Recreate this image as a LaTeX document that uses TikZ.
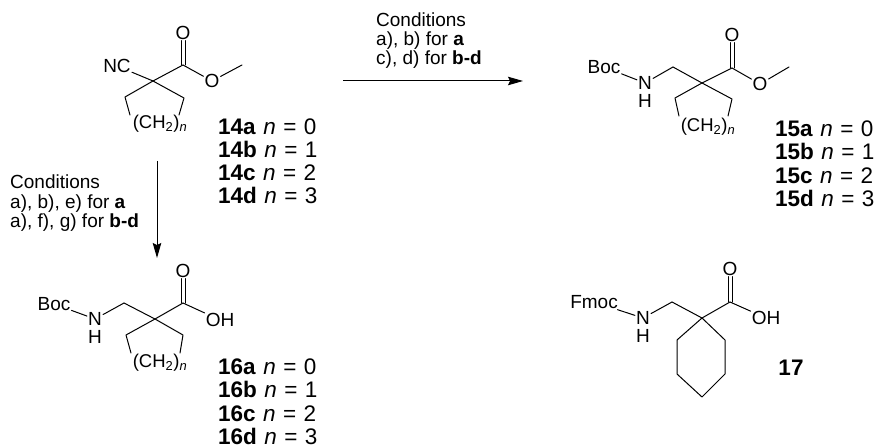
\documentclass[tikz,border=0pt]{standalone}
\usepackage{fontspec}
\setmainfont{Liberation Sans}
\usetikzlibrary{arrows.meta}
\tikzset{
  atom/.style={inner sep=1pt,font=\fontsize{19}{20}\selectfont,text height=13pt,text depth=0pt},
  chain/.style={inner sep=0pt,font=\fontsize{18.5}{20}\selectfont},
  cpd/.style={anchor=base west,inner sep=0pt,font=\fontsize{22.5}{24}\selectfont},
  cond/.style={anchor=base west,inner sep=0pt,font=\fontsize{19}{21}\selectfont},
  bond/.style={draw=black,line width=1pt,line cap=round,line join=round},
  rxn/.style={draw=black,line width=1pt,-{Stealth[length=15pt,width=8.5pt,inset=2pt]}}
}
\newcommand{\nn}[2]{\spaceskip=0.33em \textbf{#1} \textit{n} = #2}
\newcommand{\chainlabel}{(CH\textsubscript{2})\textsubscript{\textit{n}}}
\begin{document}
\begin{tikzpicture}[x=1pt,y=-1pt]
\useasboundingbox (0,0) rectangle (877,446);
% --- 14
\coordinate (a0) at (153,81);
\coordinate (a1) at (183,65);
\coordinate (a2) at (125,97);
\coordinate (a3) at (130,115);
\coordinate (a4) at (184,98);
\coordinate (a5) at (179,115);
\coordinate (a6) at (242,65);
\node[atom] (aO) at (183,33) {O};
\node[atom] (aE) at (212,81) {O};
\node[atom] (aN) at (117,66) {NC};
\node[chain] (aC) at (160,124) {\chainlabel};
\draw[bond] (aN) -- (a0);
\draw[bond] (a0) -- (a1);
\draw[bond] (a1) -- (aE);
\draw[bond] (aE) -- (a6);
\draw[bond] (a0) -- (a2) -- (a3);
\draw[bond] (a0) -- (a4) -- (a5);
\draw[bond] ([xshift=-2pt]a1) -- ([xshift=-2pt]aO.south);
\draw[bond] ([xshift=2pt]a1) -- ([xshift=2pt]aO.south);
\node[cpd] (l14a) at (218,135) {\nn{14a}{0}};
\node[cpd] (l14b) at (218,158) {\nn{14b}{1}};
\node[cpd] (l14c) at (218,181) {\nn{14c}{2}};
\node[cpd] (l14d) at (218,204) {\nn{14d}{3}};
% --- 15
\coordinate (b0) at (702,83);
\coordinate (b1) at (732,68);
\coordinate (b2) at (673,67);
\coordinate (b3) at (675,98);
\coordinate (b4) at (679,116);
\coordinate (b5) at (732,99);
\coordinate (b6) at (728,116);
\coordinate (b7) at (789,67);
\node[atom] (bO) at (732,35) {O};
\node[atom] (bE) at (760,84) {O};
\node[atom] (bN) at (645,83) {N};
\node[atom] (bH) at (645,101) {H};
\node[atom] (bB) at (604,67) {Boc};
\node[chain] (bC) at (708,127) {\chainlabel};
\draw[bond] (bB) -- (bN);
\draw[bond] (bN) -- (b2);
\draw[bond] (b2) -- (b0);
\draw[bond] (b0) -- (b1);
\draw[bond] (b1) -- (bE);
\draw[bond] (bE) -- (b7);
\draw[bond] (b0) -- (b3) -- (b4);
\draw[bond] (b0) -- (b5) -- (b6);
\draw[bond] ([xshift=-2pt]b1) -- ([xshift=-2pt]bO.south);
\draw[bond] ([xshift=2pt]b1) -- ([xshift=2pt]bO.south);
\node[cpd] (l15a) at (775,137) {\nn{15a}{0}};
\node[cpd] (l15b) at (775,160) {\nn{15b}{1}};
\node[cpd] (l15c) at (775,184) {\nn{15c}{2}};
\node[cpd] (l15d) at (775,207) {\nn{15d}{3}};
% --- 16
\coordinate (c0) at (155,319);
\coordinate (c1) at (183,303);
\coordinate (c2) at (124,303);
\coordinate (c3) at (126,335);
\coordinate (c4) at (131,353);
\coordinate (c5) at (183,335);
\coordinate (c6) at (180,353);
\node[atom] (cO) at (183,271) {O};
\node[atom] (cE) at (220,320) {OH};
\node[atom] (cN) at (95,319) {N};
\node[atom] (cH) at (95,337) {H};
\node[atom] (cB) at (54,304) {Boc};
\node[chain] (cC) at (160,363) {\chainlabel};
\draw[bond] (cB) -- (cN);
\draw[bond] (cN) -- (c2);
\draw[bond] (c2) -- (c0);
\draw[bond] (c0) -- (c1);
\draw[bond] (c1) -- (cE);
\draw[bond] (c0) -- (c3) -- (c4);
\draw[bond] (c0) -- (c5) -- (c6);
\draw[bond] ([xshift=-2pt]c1) -- ([xshift=-2pt]cO.south);
\draw[bond] ([xshift=2pt]c1) -- ([xshift=2pt]cO.south);
\node[cpd] (l16a) at (218,374) {\nn{16a}{0}};
\node[cpd] (l16b) at (218,397) {\nn{16b}{1}};
\node[cpd] (l16c) at (218,421) {\nn{16c}{2}};
\node[cpd] (l16d) at (218,444) {\nn{16d}{3}};
% --- 17
\coordinate (d0) at (702,318);
\coordinate (d1) at (730,302);
\coordinate (d2) at (672,302);
\coordinate (r1) at (725,340);
\coordinate (r2) at (725,374);
\coordinate (r3) at (702,397);
\coordinate (r4) at (677,374);
\coordinate (r5) at (677,340);
\node[atom] (dO) at (730,269) {O};
\node[atom] (dE) at (766,318) {OH};
\node[atom] (dN) at (643,318) {N};
\node[atom] (dH) at (643,336) {H};
\node[atom] (dF) at (594,302) {Fmoc};
\draw[bond] (dF) -- (dN);
\draw[bond] (dN) -- (d2);
\draw[bond] (d2) -- (d0);
\draw[bond] (d0) -- (d1);
\draw[bond] (d1) -- (dE);
\draw[bond] (d0) -- (r1) -- (r2) -- (r3) -- (r4) -- (r5) -- cycle;
\draw[bond] ([xshift=-2pt]d1) -- ([xshift=-2pt]dO.south);
\draw[bond] ([xshift=2pt]d1) -- ([xshift=2pt]dO.south);
\node[cpd,anchor=center] (l17) at (791,368) {\textbf{17}};
% --- arrows
\coordinate (h0) at (343,81);
\coordinate (h1) at (523,81);
\coordinate (v0) at (157,161);
\coordinate (v1) at (157,258);
\draw[rxn] (h0) -- (h1);
\draw[rxn] (v0) -- (v1);
\node[cond] (t1) at (376,27) {Conditions};
\node[cond] (t2) at (376,46) {a), b) for \textbf{a}};
\node[cond] (t3) at (376,65) {c), d) for \textbf{b-d}};
\node[cond] (t4) at (10,189) {Conditions};
\node[cond] (t5) at (10,209) {a), b), e) for \textbf{a}};
\node[cond] (t6) at (10,228) {a), f), g) for \textbf{b-d}};
\end{tikzpicture}
\end{document}
